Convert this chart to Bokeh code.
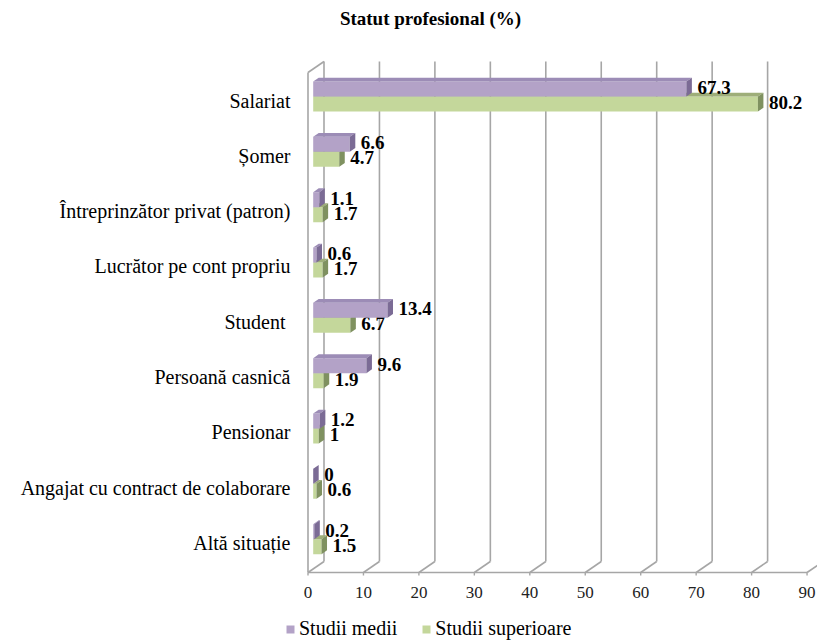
import numpy as np
from bokeh.plotting import figure
from bokeh.models import Range1d, FixedTicker, Legend, LegendItem
from bokeh.core.properties import value
from bokeh.embed import file_html
from bokeh.resources import INLINE

# ---------------- data ----------------
categories = ["Salariat", "Șomer", "Întreprinzător privat (patron)", "Lucrător pe cont propriu",
              "Student ", "Persoană casnică", "Pensionar", "Angajat cu contract de colaborare",
              "Altă situație"]
studii_medii = [67.3, 6.6, 1.1, 0.6, 13.4, 9.6, 1.2, 0, 0.2]
studii_superioare = [80.2, 4.7, 1.7, 1.7, 6.7, 1.9, 1, 0.6, 1.5]
x_ticks = [0, 10, 20, 30, 40, 50, 60, 70, 80, 90]
series_names = ["Studii medii", "Studii superioare"]
title_text = "Statut profesional (%)"

# ---------------- geometry (pixel -> data scale) ----------------
SX = 5.545      # px per % unit on x
SY = 55.33      # px per category step
X0_PX = 307.5   # px of x=0 (front plane)
Y0_PX = 100.0   # px of first category
FL, FR, FT, FB = 280, 817, 0, 640
LABEL_RIGHT = 290

x_start = (FL - X0_PX) / SX
x_end = (FR - X0_PX) / SX
y_top = (FT - Y0_PX) / SY
y_bot = (FB - Y0_PX) / SY

FONT = "Liberation Serif"
GRID = "#A6A6A6"

p = figure(width=817, height=640, output_backend="svg", toolbar_location=None,
           x_range=Range1d(x_start, x_end), y_range=Range1d(y_bot, y_top),
           x_axis_location=None, min_border_left=FL, min_border_right=0,
           min_border_top=0, min_border_bottom=0, tools="")
p.title.visible = False
p.grid.visible = False
p.outline_line_color = None
p.background_fill_color = "white"
p.border_fill_color = "white"

# y axis with category labels
yax = p.yaxis[0]
yax.ticker = FixedTicker(ticks=list(range(len(categories))))
yax.major_label_overrides = {i: c for i, c in enumerate(categories)}
yax.axis_line_color = None
yax.major_tick_line_color = None
yax.minor_tick_line_color = None
yax.major_tick_out = 0
yax.major_tick_in = 0
yax.major_label_standoff = FL - LABEL_RIGHT
yax.major_label_text_font = FONT
yax.major_label_text_font_size = "20px"
yax.major_label_text_color = "black"

# ---------------- 3D walls ----------------
DX = 16 / SX
DY = -11 / SY
floor_y = (572 - Y0_PX) / SY
front_top = (72 - Y0_PX) / SY
back_top = front_top + DY
back_floor = floor_y + DY
ticks = np.array(x_ticks, dtype=float)

# back wall gridlines
p.segment(x0=ticks + DX, y0=[back_top] * len(ticks), x1=ticks + DX, y1=[back_floor] * len(ticks),
          line_color=GRID, line_width=1.6)
# floor diagonals
p.segment(x0=ticks, y0=[floor_y] * len(ticks), x1=ticks + DX, y1=[back_floor] * len(ticks),
          line_color=GRID, line_width=1.6)
# front floor line
p.segment(x0=[ticks[0]], y0=[floor_y], x1=[ticks[-1]], y1=[floor_y], line_color=GRID, line_width=1.6)
# tick marks
p.segment(x0=ticks, y0=[floor_y] * len(ticks), x1=ticks, y1=[floor_y + 3 / SY] * len(ticks),
          line_color=GRID, line_width=1.4)
# left wall
p.segment(x0=[0, 0], y0=[floor_y, front_top], x1=[0, DX], y1=[front_top, back_top],
          line_color=GRID, line_width=1.6)

# tick labels
p.text(x=ticks, y=[(592 - Y0_PX) / SY] * len(ticks), text=[str(t) for t in x_ticks],
       text_align="center", text_baseline="middle", text_font=value(FONT),
       text_font_size="17px", text_color="#222222")

# title
p.text(x=[(430 - X0_PX) / SX], y=[(18 - Y0_PX) / SY], text=[title_text],
       text_align="center", text_baseline="middle", text_font=value(FONT),
       text_font_size="19px", text_font_style="bold", text_color="black")

# ---------------- 3D bars ----------------
idx = np.arange(len(categories), dtype=float)
bx0 = 5.2 / SX
ddx = 5.5 / SX
ddy = -3.8 / SY


def draw_series(vals, ytop, ybot, c_front, c_top, c_side):
    vals = np.array(vals, dtype=float)
    x1 = bx0 + vals
    front = p.quad(left=[bx0] * len(vals), right=x1, top=ytop, bottom=ybot,
                   fill_color=c_front, line_color=None)
    top_xs = [[bx0, e, e + ddx, bx0 + ddx] for e in x1]
    top_ys = [[t, t, t + ddy, t + ddy] for t in ytop]
    p.patches(xs=top_xs, ys=top_ys, fill_color=c_top, line_color=None)
    side_xs = [[e, e, e + ddx, e + ddx] for e in x1]
    side_ys = [[t, b, b + ddy, t + ddy] for t, b in zip(ytop, ybot)]
    p.patches(xs=side_xs, ys=side_ys, fill_color=c_side, line_color=None)
    p.text(x=x1 + 11 / SX, y=(np.array(ytop) + np.array(ybot)) / 2 - 1.5 / SY,
           text=[f"{v:g}" for v in vals], text_align="left", text_baseline="middle",
           text_font=value(FONT), text_font_size="19px", text_font_style="bold",
           text_color="black")
    return front


g_top = idx - 4 / SY
g_bot = idx + 11 / SY
m_top = idx - 19 / SY
m_bot = idx - 4 / SY

r_sup = draw_series(studii_superioare, g_top, g_bot, "#C4D79B", "#9EAE79", "#7F9160")
r_med = draw_series(studii_medii, m_top, m_bot, "#B3A2C7", "#9C8CB6", "#7B6B95")

legend = Legend(items=[LegendItem(label=series_names[0], renderers=[r_med]),
                       LegendItem(label=series_names[1], renderers=[r_sup])],
                orientation="horizontal", location=(285 - FL, 0),
                glyph_width=10, glyph_height=10, label_standoff=4, spacing=24,
                padding=0, margin=0, border_line_color=None, background_fill_alpha=0,
                label_text_font=FONT, label_text_font_size="20px", label_text_color="black")
p.add_layout(legend, "center")

open("out.html", "w").write(file_html(p, INLINE))
